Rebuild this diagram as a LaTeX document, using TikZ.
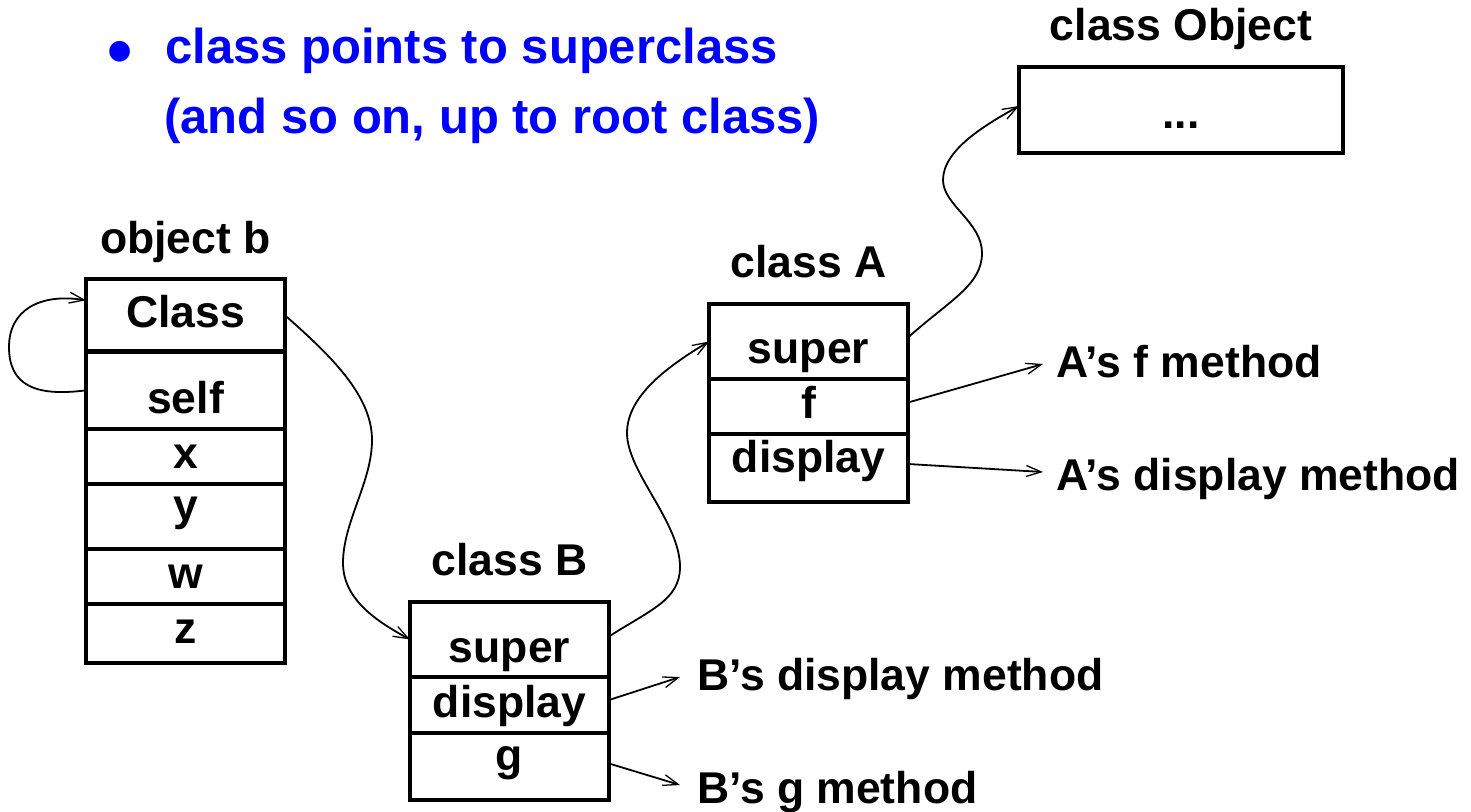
\documentclass[tikz,border=0pt]{standalone}
\usepackage{fontspec}
\setmainfont{Liberation Sans}
\usetikzlibrary{arrows.meta}

\tikzset{
  cell/.style={draw, line width=4.5pt, minimum width=199pt, inner sep=0pt, outer sep=0pt},
  lbl/.style={font=\fontsize{44.5}{50}\selectfont\bfseries, inner sep=0pt, anchor=base},
  note/.style={lbl, anchor=base west},
  bullettext/.style={font=\fontsize{49}{56}\selectfont\bfseries, text=blue, inner sep=0pt, anchor=base west},
  link/.style={line width=1.8pt, -{Straight Barb[length=15pt,width=11pt,line width=1.3pt]}},
}

\begin{document}
\begin{tikzpicture}[x=1pt, y=-1pt]
\useasboundingbox (0,0) rectangle (1471,811);

% heading bullet
\node[bullettext, font=\fontsize{72}{74}\selectfont\bfseries] (dot) at (107,75) {\textbullet};
\node[bullettext] (hd1) at (165,63) {class points to superclass};
\node[bullettext] (hd2) at (164,133) {(and so on, up to root class)};

% object b
\node[lbl] (objT) at (185.5,253) {object b};
\node[cell, minimum height=72.7pt] (bClass) at (185.5,315.3) {};
\node[cell, minimum height=77.3pt] (bSelf)  at (185.5,390.3) {};
\node[cell, minimum height=55pt]   (bX)     at (185.5,456.5) {};
\node[cell, minimum height=65pt]   (bY)     at (185.5,516.5) {};
\node[cell, minimum height=55pt]   (bW)     at (185.5,576.5) {};
\node[cell, minimum height=59pt]   (bZ)     at (185.5,633.5) {};
\node[lbl] (bClassT) at (185.5,327) {Class};
\node[lbl] (bSelfT)  at (185.5,413) {self};
\node[lbl] (bXT)     at (185.5,468) {x};
\node[lbl] (bYT)     at (185.5,520) {y};
\node[lbl] (bWT)     at (185.5,588) {w};
\node[lbl] (bZT)     at (185.5,643) {z};

% class B
\node[lbl] (clsBT) at (509.5,575) {class B};
\node[cell, minimum height=75pt] (BSuper)   at (509.5,639.5) {};
\node[cell, minimum height=56pt] (BDisplay) at (509.5,705) {};
\node[cell, minimum height=67pt] (BG)       at (509.5,766.5) {};
\node[lbl] (BSuperT)   at (509.5,662) {super};
\node[lbl] (BDisplayT) at (509.5,717) {display};
\node[lbl] (BGT)       at (509.5,770) {g};

% class A
\node[lbl] (clsAT) at (808.5,277) {class A};
\node[cell, minimum height=75pt] (ASuper)   at (808.5,341.5) {};
\node[cell, minimum height=55pt] (AF)       at (808.5,406.5) {};
\node[cell, minimum height=68pt] (ADisplay) at (808.5,468) {};
\node[lbl] (ASuperT)   at (808.5,363) {super};
\node[lbl] (AFT)       at (808.5,418) {f};
\node[lbl] (ADisplayT) at (808.5,472) {display};

% class Object
\node[lbl] (clsObjT) at (1181,40) {class Object};
\node[cell, minimum width=324pt, minimum height=86pt] (Obj) at (1181,110) {};
\node[lbl] (ObjT) at (1181,128) {...};

% method labels
\node[note] (AfM) at (1056,377) {A’s f method};
\node[note] (AdM) at (1056,490) {A’s display method};
\node[note] (BdM) at (697,690) {B’s display method};
\node[note] (BgM) at (697,803) {B’s g method};
\coordinate (AfTip) at (1043,364);
\coordinate (AdTip) at (1043,472);
\coordinate (BdTip) at (680,677);
\coordinate (BgTip) at (680,785);

% self pointer loop
\draw[link] (bSelf.west) .. controls (35,397) and (9,385) .. (9,347)
  .. controls (9,310) and (40,293) .. ([yshift=15pt]bClass.west);

% object -> class B
\draw[link] (bClass.east) .. controls (330,355) and (372,395) .. (372,440)
  .. controls (372,482) and (343,522) .. (343,563)
  .. controls (343,600) and (378,622) .. (BSuper.west);

% class B -> class A
\draw[link] ([yshift=3pt]BSuper.east) .. controls (650,610) and (680,600) .. (680,567)
  .. controls (680,522) and (627,472) .. (627,433)
  .. controls (627,395) and (670,365) .. (ASuper.west);

% class A -> class Object
\draw[link] ([yshift=4pt]ASuper.east) .. controls (950,300) and (982,285) .. (982,253)
  .. controls (982,222) and (943,205) .. (943,180)
  .. controls (943,150) and (985,125) .. ([yshift=4pt]Obj.west);

% method pointers
\draw[link] ([yshift=4pt]AF.east) -- (AfTip);
\draw[link] ([yshift=4pt]ADisplay.east) -- (AdTip);
\draw[link] ([yshift=5pt]BDisplay.east) -- (BdTip);
\draw[link] ([yshift=3pt]BG.east) -- (BgTip);
\end{tikzpicture}
\end{document}
